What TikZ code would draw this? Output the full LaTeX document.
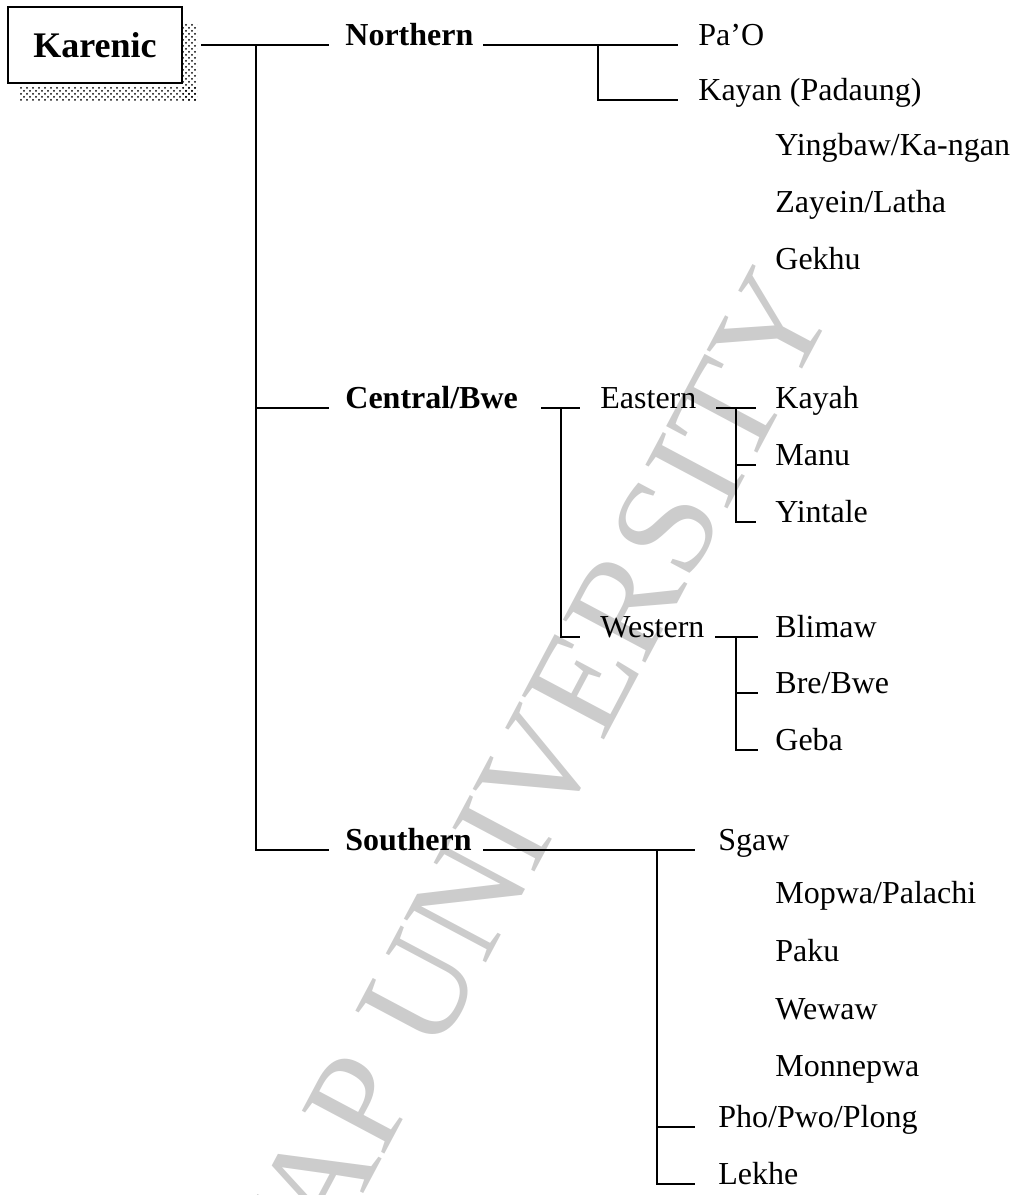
\documentclass[tikz,border=0pt]{standalone}
\usepackage{fontspec}
\setmainfont{Liberation Serif}
\usepackage{tikz}
\usetikzlibrary{
  calc,      % junction points
  patterns   % speckled shadow of the root box
}

\tikzset{
  lang/.style={anchor=base west, inner sep=0pt, font=\fontsize{16}{18}\selectfont},
  group/.style={anchor=base west, inner sep=0pt, font=\fontsize{16}{18}\selectfont\bfseries},
  branch/.style={line width=1pt},
}

\begin{document}
\begin{tikzpicture}[x=0.5pt, y=-0.5pt]
  \useasboundingbox (0,0) rectangle (1018,1195);

  % watermark of the scan
  \node[rotate=62, text=black!20, inner sep=0pt,
        font=\fontsize{71}{71}\selectfont] (mark) at (488,862) {PAYAP UNIVERSITY};

  % root box with its shadow
  \fill[pattern=crosshatch dots] (183,23) rectangle (197,100);
  \fill[pattern=crosshatch dots] (20,86) rectangle (197,100);
  \node[draw, line width=1.4pt, minimum width=87pt, minimum height=38pt, fill=white,
        font=\fontsize{18}{20}\selectfont\bfseries] (karenic) at (95,45) {Karenic};

  % groups
  \node[group] (north) at (345,45) {Northern};
  \node[group] (central) at (345,408) {Central/Bwe};
  \node[group] (south) at (345,850) {Southern};
  \node[lang] (east) at (600,408) {Eastern};
  \node[lang] (west) at (600,637) {Western};

  % languages
  \node[lang] (pao) at (698,45) {Pa’O};
  \node[lang] (kayan) at (698,100) {Kayan (Padaung)};
  \node[lang] (yingbaw) at (775,155) {Yingbaw/Ka-ngan};
  \node[lang] (zayein) at (775,212) {Zayein/Latha};
  \node[lang] (gekhu) at (775,269) {Gekhu};
  \node[lang] (kayah) at (775,408) {Kayah};
  \node[lang] (manu) at (775,465) {Manu};
  \node[lang] (yintale) at (775,522) {Yintale};
  \node[lang] (blimaw) at (775,637) {Blimaw};
  \node[lang] (brebwe) at (775,693) {Bre/Bwe};
  \node[lang] (geba) at (775,750) {Geba};
  \node[lang] (sgaw) at (718,850) {Sgaw};
  \node[lang] (mopwa) at (775,903) {Mopwa/Palachi};
  \node[lang] (paku) at (775,961) {Paku};
  \node[lang] (wewaw) at (775,1019) {Wewaw};
  \node[lang] (monnepwa) at (775,1076) {Monnepwa};
  \node[lang] (pho) at (718,1127) {Pho/Pwo/Plong};
  \node[lang] (lekhe) at (718,1184) {Lekhe};

  % junctions
  \coordinate (trunk) at (256,45);
  \coordinate (ns) at (483,45);
  \coordinate (nj) at (598,45);
  \coordinate (cs) at (541,408);
  \coordinate (cj) at (561,408);
  \coordinate (es) at (716,408);
  \coordinate (ej) at (736,408);
  \coordinate (ws) at (715,637);
  \coordinate (wj) at (736,637);
  \coordinate (ss) at (483,850);
  \coordinate (sj) at (657,850);

  % tree
  \draw[branch, shorten <=9pt, shorten >=8pt] (karenic.east) -- (north.base west);
  \draw[branch, shorten >=8pt] (trunk) |- (central.base west);
  \draw[branch, shorten >=8pt] (trunk) |- (south.base west);

  \draw[branch, shorten >=10pt] (ns) -- (pao.base west);
  \draw[branch, shorten >=10pt] (nj) |- (kayan.base west);

  \draw[branch, shorten >=10pt] (cs) -- (east.base west);
  \draw[branch, shorten >=10pt] (cj) |- (west.base west);

  \draw[branch, shorten >=9.5pt] (es) -- (kayah.base west);
  \draw[branch, shorten >=9.5pt] (ej) |- (manu.base west);
  \draw[branch, shorten >=9.5pt] (ej) |- (yintale.base west);

  \draw[branch, shorten >=8.5pt] (ws) -- (blimaw.base west);
  \draw[branch, shorten >=8.5pt] (wj) |- (brebwe.base west);
  \draw[branch, shorten >=8.5pt] (wj) |- (geba.base west);

  \draw[branch, shorten >=11.5pt] (ss) -- (sgaw.base west);
  \draw[branch, shorten >=11.5pt] (sj) |- (pho.base west);
  \draw[branch, shorten >=11.5pt] (sj) |- (lekhe.base west);
\end{tikzpicture}
\end{document}
